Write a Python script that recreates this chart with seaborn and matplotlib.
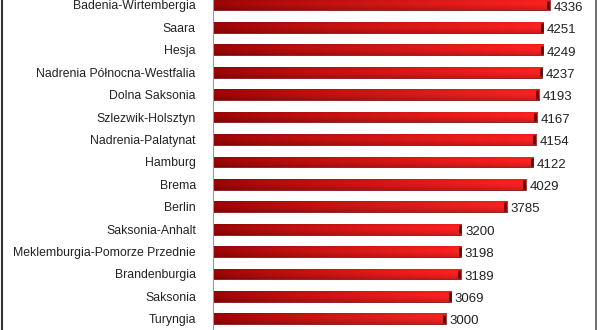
import numpy as np
import pandas as pd
import matplotlib
matplotlib.use('Agg')
import matplotlib.pyplot as plt
import seaborn as sns
from matplotlib.lines import Line2D

# kraje związkowe i wartości
kraje = ['Badenia-Wirtembergia', 'Saara', 'Hesja', 'Nadrenia Północna-Westfalia',
         'Dolna Saksonia', 'Szlezwik-Holsztyn', 'Nadrenia-Palatynat', 'Hamburg',
         'Brema', 'Berlin', 'Saksonia-Anhalt', 'Meklemburgia-Pomorze Przednie',
         'Brandenburgia', 'Saksonia', 'Turyngia']
wartosci = [4336, 4251, 4249, 4237, 4193, 4167, 4154, 4122,
            4029, 3785, 3200, 3198, 3189, 3069, 3000]

df = pd.DataFrame({'kraj': kraje, 'wartosc': wartosci})

sns.set_style('white')
plt.rcParams['font.family'] = ['Liberation Sans', 'DejaVu Sans']

fig = plt.figure(figsize=(6, 3.3), dpi=100)
ax = fig.add_axes([212.5 / 600, 0, (590 - 212.5) / 600, 1])

sns.barplot(data=df, x='wartosc', y='kraj', orient='h', color='#d81818',
            width=0.48, ax=ax)

# gradient na słupkach (efekt 3D)
h = np.linspace(0, 1, 200)
v = np.linspace(0, 1, 40)
hh, vv = np.meshgrid(h, v)
dark = np.array([0.60, 0.02, 0.02])
light = np.array([1.0, 0.13, 0.13])
img = dark[None, None, :] + (light - dark)[None, None, :] * hh[..., None] ** 0.8
shade = 1 - 0.35 * np.abs(vv - 0.35)[..., None] ** 1.5
img = np.clip(img * shade, 0, 1)
for p in ax.patches:
    x0, y0 = p.get_x(), p.get_y()
    w, hgt = p.get_width(), p.get_height()
    p.set_facecolor('none')
    p.set_edgecolor('#7a0000')
    p.set_linewidth(0.6)
    im = ax.imshow(img, extent=[x0, x0 + w, y0 + hgt, y0], aspect='auto',
                   zorder=1.5, interpolation='bilinear')
    im.set_clip_path(p)
    # ciemna ścianka na końcu słupka
    ax.plot([x0 + w - 20, x0 + w - 20], [y0 + 0.05, y0 + hgt - 0.05],
            color='#5a0000', lw=1.8, zorder=2, solid_capstyle='butt')

ax.set_xlim(0, 4852)
ax.set_ylim(14 + 10 / 22.5, -5 / 22.5)

for i, val in enumerate(wartosci):
    ax.text(val + 45, i + 0.12, str(val), va='center', ha='left',
            fontsize=9.5, color='#222222')

ax.set_xlabel('')
ax.set_ylabel('')
ax.set_xticks([])
ax.tick_params(axis='y', which='major', length=0, pad=12, labelsize=8.8,
               labelcolor='#222222')
ax.set_yticks(np.arange(len(kraje)) + 0.5, minor=True)
ax.tick_params(axis='y', which='minor', length=4, color='#888888', width=0.8)
for s in ['top', 'right', 'bottom']:
    ax.spines[s].set_visible(False)
ax.spines['left'].set_color('#999999')
ax.spines['left'].set_linewidth(0.8)

# ramka obrazka
fig.add_artist(Line2D([2 / 600, 2 / 600], [0, 1], color='#333333', lw=1.5))
fig.add_artist(Line2D([596 / 600, 596 / 600], [0, 1], color='#555555', lw=1.2))

fig.savefig('out.png', dpi=100)
